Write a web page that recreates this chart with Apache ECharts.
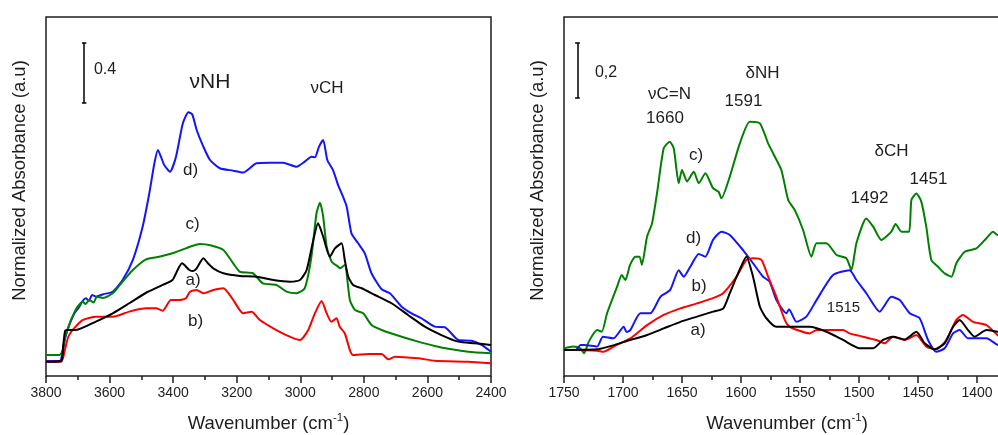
<!DOCTYPE html>
<html>
<head>
<meta charset="utf-8">
<script src="https://cdn.jsdelivr.net/npm/echarts@6/dist/echarts.min.js"></script>
<style>html,body{margin:0;padding:0;background:#fff}#chart{width:998px;height:435px}</style>
</head>
<body>
<div id="chart"></div>
<script>
// ---------- Left panel (3800-2400 cm-1) : [wavenumber, absorbance] ----------
const leftA = [[3800,0.095],[3752,0.100],[3746,0.200],[3740,0.300],[3732,0.307],[3706,0.307],[3643,0.363],[3590,0.418],[3538,0.485],[3485,0.555],[3433,0.607],[3402,0.640],[3386,0.707],[3372,0.751],[3349,0.707],[3337,0.700],[3326,0.718],[3305,0.785],[3290,0.750],[3274,0.718],[3242,0.685],[3190,0.667],[3138,0.662],[3085,0.640],[3033,0.629],[3001,0.640],[2980,0.707],[2959,0.907],[2944,1.018],[2928,0.929],[2907,0.795],[2891,0.851],[2870,0.885],[2860,0.773],[2849,0.662],[2834,0.607],[2807,0.585],[2765,0.540],[2713,0.485],[2661,0.407],[2608,0.329],[2556,0.273],[2503,0.229],[2451,0.218],[2400,0.207]];
const leftB = [[3800,0.095],[3752,0.095],[3740,0.180],[3730,0.260],[3716,0.307],[3685,0.373],[3643,0.395],[3590,0.395],[3538,0.429],[3485,0.451],[3454,0.451],[3433,0.435],[3407,0.507],[3381,0.507],[3360,0.518],[3347,0.562],[3326,0.573],[3305,0.551],[3274,0.573],[3242,0.585],[3211,0.507],[3180,0.418],[3153,0.429],[3127,0.373],[3085,0.318],[3033,0.262],[3001,0.240],[2975,0.307],[2954,0.418],[2933,0.500],[2917,0.418],[2902,0.362],[2886,0.385],[2876,0.329],[2860,0.285],[2844,0.173],[2834,0.140],[2786,0.147],[2744,0.147],[2723,0.111],[2702,0.129],[2629,0.118],[2577,0.102],[2472,0.095],[2400,0.085]];
const leftC = [[3800,0.140],[3757,0.140],[3748,0.170],[3740,0.260],[3725,0.351],[3704,0.451],[3685,0.495],[3675,0.480],[3664,0.507],[3650,0.490],[3640,0.529],[3620,0.520],[3590,0.551],[3559,0.629],[3527,0.707],[3485,0.778],[3444,0.795],[3402,0.818],[3360,0.851],[3347,0.862],[3316,0.880],[3280,0.870],[3242,0.840],[3211,0.751],[3190,0.695],[3149,0.685],[3118,0.618],[3075,0.607],[3043,0.562],[3012,0.551],[2986,0.585],[2965,0.795],[2949,1.085],[2938,1.155],[2928,1.062],[2917,0.862],[2901,0.762],[2881,0.729],[2875,0.718],[2860,0.740],[2844,0.507],[2828,0.440],[2802,0.418],[2776,0.340],[2744,0.307],[2681,0.262],[2629,0.229],[2577,0.200],[2524,0.178],[2472,0.162],[2400,0.151]];
const leftD = [[3800,0.100],[3757,0.100],[3748,0.150],[3740,0.250],[3725,0.353],[3710,0.420],[3695,0.462],[3685,0.500],[3674,0.518],[3665,0.500],[3655,0.540],[3643,0.529],[3620,0.545],[3590,0.562],[3559,0.640],[3527,0.773],[3496,0.995],[3475,1.218],[3459,1.418],[3448,1.507],[3438,1.460],[3428,1.407],[3410,1.362],[3391,1.462],[3370,1.680],[3352,1.758],[3340,1.745],[3326,1.640],[3305,1.529],[3284,1.440],[3253,1.385],[3211,1.369],[3180,1.356],[3138,1.418],[3096,1.422],[3054,1.422],[3012,1.395],[2986,1.429],[2965,1.462],[2954,1.458],[2941,1.529],[2928,1.573],[2915,1.440],[2897,1.373],[2881,1.273],[2870,1.218],[2854,1.129],[2839,0.951],[2818,0.885],[2797,0.818],[2776,0.685],[2744,0.578],[2718,0.551],[2681,0.462],[2650,0.418],[2619,0.385],[2577,0.329],[2545,0.325],[2503,0.240],[2461,0.235],[2430,0.207],[2400,0.162]];

// ---------- Right panel (1750-1380 cm-1) : [wavenumber, absorbance] ----------
const rightA = [[1750,0.095],[1722,0.097],[1693.8,0.131],[1679.6,0.149],[1665.5,0.173],[1651.4,0.197],[1637.3,0.216],[1623.7,0.234],[1615,0.246],[1609.5,0.301],[1602.5,0.373],[1595.4,0.434],[1589.8,0.361],[1584,0.252],[1578.5,0.210],[1570,0.179],[1541.8,0.179],[1527.6,0.161],[1513.5,0.131],[1499.4,0.101],[1488,0.101],[1479.7,0.131],[1471.2,0.143],[1461.3,0.133],[1451.4,0.161],[1444.3,0.119],[1436,0.097],[1427.4,0.119],[1420.3,0.179],[1414.7,0.204],[1407.6,0.167],[1402,0.143],[1392,0.167],[1382.5,0.161],[1375,0.160]];
const rightB = [[1750,0.095],[1722,0.092],[1716.4,0.088],[1708,0.107],[1693.8,0.137],[1679.6,0.185],[1665.5,0.222],[1651.4,0.246],[1637.3,0.264],[1623.7,0.283],[1615.2,0.301],[1603.9,0.361],[1595.4,0.422],[1589.8,0.428],[1582.7,0.422],[1577,0.361],[1570,0.288],[1562.9,0.204],[1558.7,0.179],[1541.8,0.155],[1536,0.167],[1513.5,0.167],[1508,0.155],[1496.6,0.143],[1485.3,0.131],[1478.2,0.119],[1471.2,0.143],[1461.3,0.131],[1451.4,0.149],[1443,0.107],[1434.5,0.097],[1426,0.131],[1417.5,0.204],[1412,0.222],[1403.4,0.197],[1392,0.185],[1382.5,0.149],[1375,0.140]];
const rightC = [[1750,0.101],[1742,0.107],[1736,0.100],[1733,0.083],[1729,0.125],[1722,0.167],[1718,0.161],[1713.5,0.228],[1705,0.325],[1701,0.367],[1698,0.349],[1694,0.404],[1689.5,0.434],[1686,0.434],[1684,0.404],[1679.6,0.507],[1675.4,0.555],[1671,0.670],[1665.5,0.828],[1660.4,0.852],[1657,0.828],[1652.8,0.701],[1650,0.749],[1645.7,0.707],[1640,0.743],[1635.8,0.701],[1630.2,0.737],[1623.7,0.683],[1619,0.670],[1616.6,0.646],[1609.5,0.725],[1601,0.846],[1592.6,0.925],[1584,0.919],[1577,0.846],[1572.8,0.810],[1565.8,0.749],[1560,0.640],[1554.5,0.604],[1547.4,0.531],[1540.3,0.434],[1536,0.483],[1527.6,0.483],[1519,0.440],[1510.7,0.428],[1506.4,0.385],[1502.2,0.483],[1493.8,0.573],[1488,0.543],[1481,0.495],[1472.6,0.525],[1469,0.553],[1464,0.525],[1457.6,0.525],[1455.6,0.640],[1451.4,0.664],[1447.2,0.634],[1443,0.543],[1438.7,0.422],[1433,0.397],[1427.4,0.373],[1421.7,0.361],[1417.5,0.410],[1410.4,0.452],[1400.5,0.464],[1392,0.501],[1386.4,0.525],[1382.5,0.513],[1375,0.515]];
const rightD = [[1750,0.095],[1740,0.095],[1736,0.113],[1733,0.113],[1722,0.107],[1717,0.143],[1708,0.137],[1699.4,0.179],[1697,0.160],[1693.8,0.167],[1685.3,0.228],[1676.8,0.228],[1668.3,0.288],[1660,0.313],[1652.8,0.385],[1648.5,0.361],[1643,0.397],[1635.8,0.444],[1630.2,0.434],[1623.7,0.495],[1616.6,0.525],[1609.5,0.513],[1598.3,0.458],[1589.8,0.410],[1581.3,0.361],[1575.7,0.343],[1570,0.276],[1561.5,0.228],[1559.3,0.243],[1553,0.197],[1544.6,0.216],[1536,0.276],[1522,0.367],[1508,0.385],[1502.2,0.349],[1493.8,0.301],[1482.5,0.234],[1472.6,0.288],[1465.5,0.276],[1457,0.228],[1448.6,0.210],[1441.5,0.131],[1434.5,0.088],[1427.4,0.101],[1420.3,0.155],[1414.7,0.167],[1407.6,0.137],[1392,0.137],[1382.5,0.113],[1375,0.105]];

// scale bars: [wavenumber, base absorbance, length]
const scaleLeft = [3680, 1.82, 0.4];
const scaleRight = [1738.6, 1.011, 0.2];

const leftXRange = [2400, 3800], leftXInterval = 200;
const rightXRange = [1350, 1750], rightXInterval = 50;

const FONT = '"Liberation Sans", Arial, Helvetica, sans-serif';
const INK = '#1e1e1e';
const COLORS = { a: '#000000', b: '#ff0000', c: '#008000', d: '#1414ff' };

function scaleBar(s, halfW) {
  const [x, y0, len] = s;
  return {
    silent: true, symbol: ['none', 'none'], animation: false,
    label: { show: false },
    lineStyle: { color: '#000', width: 1.5, type: 'solid' },
    emphasis: { disabled: true },
    data: [
      [{ coord: [x, y0] }, { coord: [x, y0 + len] }],
      [{ coord: [x - halfW, y0] }, { coord: [x + halfW, y0] }],
      [{ coord: [x - halfW, y0 + len] }, { coord: [x + halfW, y0 + len] }]
    ]
  };
}

function line(name, data, color, idx, extra) {
  return Object.assign({
    name, type: 'line', data, xAxisIndex: idx, yAxisIndex: idx,
    showSymbol: false, symbol: 'none', smooth: 0.2, animation: false,
    lineStyle: { color, width: 2 }, itemStyle: { color }, z: 3
  }, extra || {});
}

function xAx(idx, range, interval, name, pad) {
  return {
    type: 'value', gridIndex: idx, inverse: true, min: range[0], max: range[1], interval,
    axisLine: { show: false },
    axisTick: { show: true, inside: false, length: 7, lineStyle: { color: INK, width: 1.5 } },
    minorTick: { show: true, splitNumber: 2, length: 4, lineStyle: { color: INK, width: 1.5 } },
    splitLine: { show: false }, minorSplitLine: { show: false },
    axisLabel: { color: INK, fontSize: 14, fontFamily: FONT, margin: 10, showMinLabel: true, showMaxLabel: true,
      hideOverlap: false, formatter: v => String(v) },
    name, nameLocation: 'middle', nameGap: 36,
    nameTextStyle: {
      padding: pad,
      rich: {
        n: { fontSize: 18.5, fontFamily: FONT, color: INK, lineHeight: 24 },
        s: { fontSize: 11.5, fontFamily: FONT, color: INK, verticalAlign: 'top', lineHeight: 12 }
      }
    }
  };
}

function yAx(idx, max) {
  return {
    type: 'value', gridIndex: idx, min: 0, max,
    axisLine: { show: false }, axisTick: { show: false }, axisLabel: { show: false },
    splitLine: { show: false },
    name: 'Normalized Absorbance (a.u)', nameLocation: 'middle', nameGap: 17, nameRotate: 90,
    nameTextStyle: { fontSize: 18.5, fontFamily: FONT, color: INK, padding: [0, 0, 0, 32] }
  };
}

const wnName = '{n|Wavenumber (cm}{s|-1}{n|)}';

function txt(x, y, text, size) {
  return {
    type: 'text', x, y, silent: true,
    style: { text, fill: INK, font: size + 'px ' + FONT, fontSize: size, fontFamily: FONT,
      align: 'center', verticalAlign: 'middle', textAlign: 'center', textVerticalAlign: 'middle' }
  };
}

const gridBase = { top: 17, height: 359, show: true, borderColor: INK, borderWidth: 1.5,
  backgroundColor: 'transparent', containLabel: false, outerBoundsMode: 'none' };

const chart = echarts.init(document.getElementById('chart'), null, { renderer: 'canvas' });
chart.setOption({
  animation: false,
  backgroundColor: '#ffffff',
  grid: [
    Object.assign({ left: 46, width: 445 }, gridBase),
    Object.assign({ left: 564, width: 472 }, gridBase)
  ],
  xAxis: [
    xAx(0, leftXRange, leftXInterval, wnName, [0, 0, 0, 0]),
    xAx(1, rightXRange, rightXInterval, wnName, [0, 26, 0, 0])
  ],
  yAxis: [ yAx(0, 359 / 150), yAx(1, 359 / 275) ],
  series: [
    line('d)', leftD, COLORS.d, 0),
    line('c)', leftC, COLORS.c, 0),
    line('b)', leftB, COLORS.b, 0),
    line('a)', leftA, COLORS.a, 0, { markLine: scaleBar(scaleLeft, 7) }),
    line('c)', rightC, COLORS.c, 1),
    line('d)', rightD, COLORS.d, 1),
    line('b)', rightB, COLORS.b, 1),
    line('a)', rightA, COLORS.a, 1, { markLine: scaleBar(scaleRight, 2) })
  ],
  graphic: [
    txt(105, 70, '0.4', 16),
    txt(210, 82, 'νNH', 21),
    txt(327, 88, 'νCH', 17),
    txt(190.5, 170, 'd)', 17),
    txt(192.5, 224, 'c)', 17),
    txt(193, 280, 'a)', 17),
    txt(195.5, 321, 'b)', 17),
    txt(606, 73, '0,2', 16),
    txt(669.5, 94, 'νC=N', 17),
    txt(665, 118, '1660', 17),
    txt(762.5, 73, 'δNH', 17),
    txt(743.5, 101, '1591', 17),
    txt(696, 155, 'c)', 17),
    txt(891.5, 151, 'δCH', 17),
    txt(928.5, 179, '1451', 17),
    txt(869.5, 198, '1492', 17),
    txt(693.5, 238, 'd)', 17),
    txt(699, 286, 'b)', 17),
    txt(843.5, 308, '1515', 15),
    txt(698, 330, 'a)', 17)
  ]
});
</script>
</body>
</html>
